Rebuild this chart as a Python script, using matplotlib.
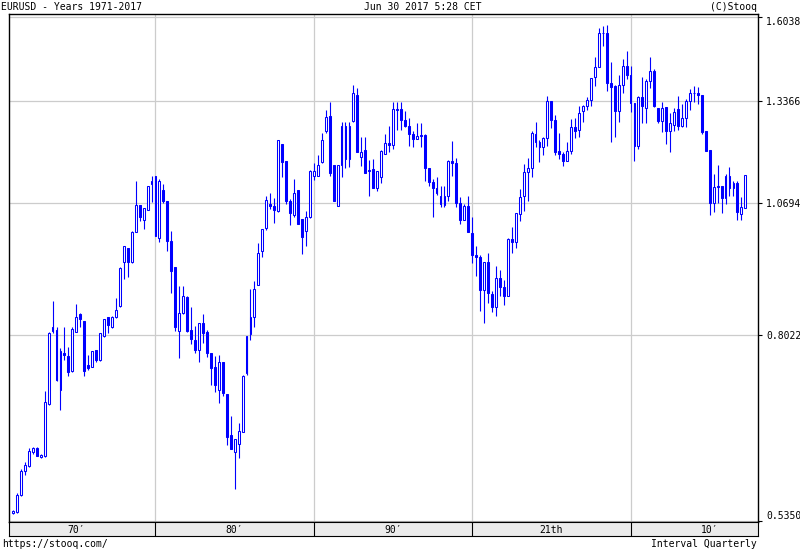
"""EURUSD quarterly candlestick chart, 1971-2017, in the stooq.com style."""

import numpy as np
import pandas as pd
import matplotlib
matplotlib.use("Agg")
import matplotlib.pyplot as plt
from matplotlib.ticker import NullLocator

plt.rcParams["font.family"] = ["DejaVu Sans Mono", "DejaVu Sans"]

BLUE = "#0000ff"
GRID = "#cccccc"
W, H = 800, 550

quarters = pd.period_range("1971Q1", "2017Q2", freq="Q")

open_ = [
    0.544, 0.546, 0.566, 0.596, 0.603, 0.622, 0.627, 0.615, 0.616, 0.690,
    0.816, 0.811, 0.712, 0.771, 0.766, 0.741, 0.808, 0.839, 0.827, 0.751,
    0.748, 0.777, 0.760, 0.800, 0.834, 0.817, 0.835, 0.854, 0.940, 0.970,
    0.940, 1.003, 1.065, 1.030, 1.054, 1.114, 1.133, 0.990, 1.100, 1.075,
    0.984, 0.931, 0.809, 0.841, 0.872, 0.811, 0.793, 0.776, 0.824, 0.807,
    0.771, 0.748, 0.712, 0.756, 0.705, 0.645, 0.622, 0.633, 0.649, 0.739,
    0.804, 0.834, 0.895, 0.963, 1.013, 1.066, 1.062, 1.051, 1.217, 1.172,
    1.075, 1.042, 1.099, 1.032, 1.007, 1.037, 1.133, 1.135, 1.169, 1.251,
    1.294, 1.162, 1.063, 1.163, 1.266, 1.176, 1.279, 1.353, 1.181, 1.200,
    1.146, 1.152, 1.105, 1.131, 1.190, 1.219, 1.214, 1.313, 1.313, 1.282,
    1.265, 1.244, 1.230, 1.239, 1.239, 1.155, 1.120, 1.106, 1.087, 1.065,
    1.085, 1.172, 1.166, 1.069, 1.031, 1.062, 1.001, 0.955, 0.950, 0.884,
    0.940, 0.877, 0.852, 0.909, 0.890, 0.873, 0.988, 0.983, 1.044, 1.085,
    1.144, 1.155, 1.242, 1.221, 1.208, 1.232, 1.336, 1.280, 1.198, 1.190,
    1.173, 1.198, 1.263, 1.255, 1.307, 1.322, 1.338, 1.406, 1.437, 1.548,
    1.548, 1.390, 1.380, 1.308, 1.383, 1.442, 1.413, 1.331, 1.211, 1.346,
    1.316, 1.395, 1.427, 1.316, 1.279, 1.319, 1.251, 1.268, 1.312, 1.266,
    1.287, 1.335, 1.359, 1.358, 1.353, 1.251, 1.200, 1.070, 1.110, 1.110,
    1.081, 1.133, 1.106, 1.118, 1.045, 1.058,
]
high = [
    0.548, 0.569, 0.599, 0.608, 0.627, 0.628, 0.628, 0.619, 0.710, 0.808,
    0.864, 0.817, 0.780, 0.816, 0.782, 0.817, 0.858, 0.842, 0.827, 0.768,
    0.775, 0.777, 0.806, 0.831, 0.834, 0.836, 0.869, 0.930, 0.973, 0.970,
    1.006, 1.122, 1.065, 1.058, 1.111, 1.134, 1.135, 1.128, 1.115, 1.075,
    1.006, 0.931, 0.892, 0.892, 0.873, 0.853, 0.818, 0.824, 0.839, 0.811,
    0.771, 0.766, 0.768, 0.756, 0.705, 0.672, 0.640, 0.662, 0.735, 0.801,
    0.887, 0.902, 0.980, 1.010, 1.086, 1.094, 1.082, 1.228, 1.217, 1.172,
    1.078, 1.128, 1.099, 1.032, 1.050, 1.148, 1.168, 1.187, 1.245, 1.310,
    1.334, 1.162, 1.163, 1.275, 1.275, 1.275, 1.382, 1.373, 1.236, 1.234,
    1.175, 1.177, 1.147, 1.201, 1.242, 1.265, 1.334, 1.334, 1.334, 1.306,
    1.288, 1.250, 1.272, 1.273, 1.244, 1.155, 1.126, 1.131, 1.111, 1.111,
    1.174, 1.224, 1.180, 1.083, 1.066, 1.086, 1.037, 0.974, 0.955, 0.941,
    0.959, 0.882, 0.932, 0.924, 0.905, 0.990, 1.014, 1.046, 1.102, 1.164,
    1.179, 1.250, 1.276, 1.227, 1.235, 1.350, 1.336, 1.296, 1.245, 1.194,
    1.222, 1.284, 1.286, 1.321, 1.325, 1.347, 1.405, 1.470, 1.565, 1.573,
    1.576, 1.455, 1.382, 1.413, 1.465, 1.488, 1.441, 1.331, 1.350, 1.407,
    1.402, 1.470, 1.432, 1.316, 1.334, 1.319, 1.300, 1.315, 1.351, 1.326,
    1.340, 1.370, 1.380, 1.378, 1.353, 1.251, 1.200, 1.140, 1.163, 1.110,
    1.138, 1.156, 1.122, 1.122, 1.084, 1.136,
]
low = [
    0.543, 0.544, 0.565, 0.591, 0.602, 0.619, 0.616, 0.614, 0.615, 0.689,
    0.806, 0.726, 0.682, 0.760, 0.734, 0.740, 0.807, 0.816, 0.734, 0.743,
    0.748, 0.757, 0.758, 0.799, 0.806, 0.815, 0.832, 0.853, 0.906, 0.911,
    0.939, 1.003, 1.028, 1.011, 1.053, 1.071, 0.995, 0.983, 1.070, 0.963,
    0.880, 0.809, 0.763, 0.840, 0.808, 0.787, 0.771, 0.756, 0.789, 0.764,
    0.719, 0.708, 0.692, 0.702, 0.631, 0.626, 0.573, 0.613, 0.649, 0.735,
    0.793, 0.817, 0.894, 0.951, 1.008, 1.055, 1.023, 1.049, 1.131, 1.068,
    1.020, 1.038, 1.022, 0.958, 0.973, 1.036, 1.124, 1.134, 1.168, 1.245,
    1.133, 1.075, 1.063, 1.132, 1.154, 1.156, 1.276, 1.195, 1.159, 1.142,
    1.085, 1.106, 1.097, 1.118, 1.190, 1.194, 1.204, 1.254, 1.254, 1.263,
    1.212, 1.207, 1.229, 1.207, 1.121, 1.111, 1.038, 1.088, 1.060, 1.060,
    1.073, 1.135, 1.060, 1.021, 1.030, 1.003, 0.938, 0.912, 0.845, 0.824,
    0.860, 0.844, 0.836, 0.873, 0.857, 0.873, 0.959, 0.969, 1.029, 1.051,
    1.073, 1.131, 1.208, 1.170, 1.187, 1.211, 1.258, 1.188, 1.176, 1.158,
    1.171, 1.190, 1.233, 1.234, 1.275, 1.311, 1.322, 1.380, 1.437, 1.504,
    1.366, 1.221, 1.234, 1.275, 1.358, 1.400, 1.303, 1.172, 1.204, 1.272,
    1.272, 1.375, 1.318, 1.273, 1.248, 1.215, 1.194, 1.251, 1.255, 1.261,
    1.262, 1.310, 1.334, 1.326, 1.244, 1.198, 1.042, 1.048, 1.069, 1.047,
    1.067, 1.087, 1.085, 1.030, 1.030, 1.058,
]
close = [
    0.547, 0.566, 0.597, 0.604, 0.623, 0.627, 0.617, 0.618, 0.693, 0.806,
    0.810, 0.727, 0.775, 0.768, 0.740, 0.812, 0.834, 0.830, 0.741, 0.747,
    0.774, 0.760, 0.805, 0.830, 0.819, 0.835, 0.847, 0.929, 0.973, 0.940,
    1.004, 1.065, 1.038, 1.058, 1.111, 1.121, 0.995, 1.121, 1.073, 0.984,
    0.922, 0.816, 0.841, 0.874, 0.809, 0.796, 0.776, 0.823, 0.806, 0.771,
    0.746, 0.720, 0.756, 0.707, 0.642, 0.626, 0.639, 0.651, 0.733, 0.801,
    0.835, 0.886, 0.960, 1.010, 1.077, 1.062, 1.053, 1.226, 1.170, 1.073,
    1.046, 1.092, 1.022, 0.994, 1.037, 1.147, 1.147, 1.161, 1.228, 1.290,
    1.142, 1.075, 1.163, 1.266, 1.178, 1.266, 1.360, 1.195, 1.195, 1.142,
    1.150, 1.106, 1.147, 1.197, 1.219, 1.214, 1.313, 1.310, 1.280, 1.265,
    1.243, 1.230, 1.237, 1.237, 1.155, 1.119, 1.105, 1.092, 1.067, 1.085,
    1.172, 1.166, 1.069, 1.031, 1.062, 1.003, 0.955, 0.950, 0.884, 0.941,
    0.880, 0.852, 0.909, 0.890, 0.873, 0.988, 0.983, 1.046, 1.083, 1.144,
    1.155, 1.245, 1.221, 1.208, 1.232, 1.336, 1.280, 1.195, 1.190, 1.173,
    1.197, 1.263, 1.252, 1.301, 1.322, 1.338, 1.405, 1.437, 1.548, 1.550,
    1.390, 1.376, 1.308, 1.383, 1.442, 1.412, 1.331, 1.211, 1.346, 1.321,
    1.395, 1.427, 1.321, 1.279, 1.316, 1.251, 1.272, 1.303, 1.266, 1.287,
    1.335, 1.360, 1.360, 1.352, 1.249, 1.198, 1.069, 1.107, 1.107, 1.081,
    1.133, 1.106, 1.118, 1.048, 1.061, 1.136,
]

YTICKS = [0.5350, 0.8022, 1.0694, 1.3366, 1.6038]
DECADE_LABELS = ["70\u2032", "80\u2032", "90\u2032", "21th", "10\u2032"]


def px(x, y):
    """Figure fraction from pixel position (origin top-left)."""
    return x / W, 1 - y / H


def main():
    x = np.arange(len(quarters))
    o, h, l, c = (np.array(a) for a in (open_, high, low, close))
    up = c >= o

    years = np.array([q.year for q in quarters])
    q1 = np.array([q.quarter == 1 for q in quarters])
    grid_x = x[q1 & (years % 10 == 0)]
    label_x = x[q1 & (years % 10 == 5)]
    xlim = (-1.0, 188.2)

    fig = plt.figure(figsize=(W / 100, H / 100), dpi=100, facecolor="white")
    ax = fig.add_axes([9 / W, 28 / H, 749 / W, 508 / H])
    ax.set_yscale("log")
    ax.set_ylim(0.5338, 1.6142)
    ax.set_xlim(*xlim)

    # wicks, then bodies on top (hollow = up, filled = down)
    ax.vlines(x, l, h, color=BLUE, lw=0.8, zorder=2)
    bottom = np.minimum(o, c)
    height = np.maximum(np.abs(c - o), 0.001)
    ax.bar(x[up], height[up], bottom=bottom[up], width=0.48,
           facecolor="white", edgecolor=BLUE, linewidth=0.75, zorder=3)
    ax.bar(x[~up], height[~up], bottom=bottom[~up], width=0.48,
           facecolor=BLUE, edgecolor=BLUE, linewidth=0.75, zorder=3)

    ax.set_xticks(grid_x)
    ax.set_xticklabels([])
    ax.tick_params(axis="x", length=0)
    ax.yaxis.tick_right()
    ax.set_yticks(YTICKS)
    ax.set_yticklabels([f"{v:.4f}" for v in YTICKS])
    ax.yaxis.set_minor_locator(NullLocator())
    ax.tick_params(axis="y", direction="out", length=3, width=0.8,
                   pad=3, labelsize=7)
    ax.grid(True, color=GRID, lw=0.9, zorder=0)
    ax.set_axisbelow(True)
    ticks = ax.yaxis.get_major_ticks()
    ticks[0].label2.set_va("bottom")
    ticks[-1].label2.set_va("top")
    for sp in ax.spines.values():
        sp.set_linewidth(1.0)

    # decade band under the plot
    bax = fig.add_axes([9 / W, 14 / H, 749 / W, 14 / H], facecolor="#ebebeb")
    bax.set_xlim(*xlim)
    bax.set_ylim(0, 1)
    bax.set_xticks([])
    bax.set_yticks([])
    bax.vlines(grid_x, 0, 1, color="black", lw=0.8)
    for xi, lab in zip(label_x, DECADE_LABELS):
        bax.text(xi, 0.45, lab, ha="center", va="center", fontsize=7)

    fig.text(*px(1, 7), "EURUSD - Years 1971-2017", ha="left", va="center",
             fontsize=7)
    fig.text(*px(423, 7), "Jun 30 2017 5:28 CET", ha="center", va="center",
             fontsize=7)
    fig.text(*px(757, 7), "(C)Stooq", ha="right", va="center", fontsize=7)
    fig.text(*px(2, 544), "https://stooq.com/", ha="left", va="center",
             fontsize=7)
    fig.text(*px(757, 544), "Interval Quarterly", ha="right", va="center",
             fontsize=7)

    fig.savefig("out.png", dpi=100, facecolor="white")
    plt.close(fig)


if __name__ == "__main__":
    main()
